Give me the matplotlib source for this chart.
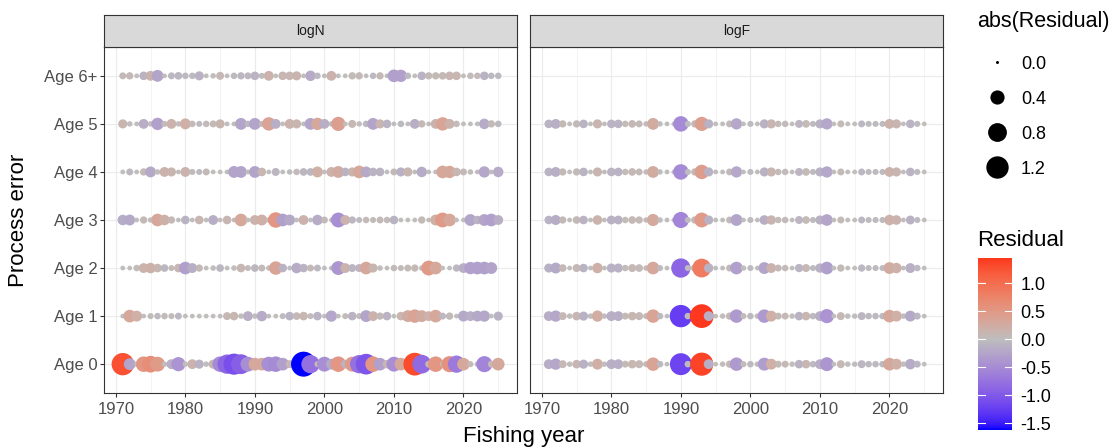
import numpy as np
import matplotlib
matplotlib.use("Agg")
import matplotlib.pyplot as plt
from matplotlib.colors import ListedColormap, Normalize
from matplotlib.lines import Line2D

plt.rcParams["font.family"] = ["Liberation Sans", "DejaVu Sans"]

years = list(range(1971, 2026))
age_labels = ["Age 0", "Age 1", "Age 2", "Age 3", "Age 4", "Age 5", "Age 6+"]
panels = ["logN", "logF"]

# ---- logN process error residuals, one list per age (1971-2025)
logN_age0 = [1.2, -0.25, 0.02, 0.5, 0.6, 0.45, 0.02, -0.15, -0.4, 0.02,
             0.15, -0.12, 0.02, 0.12, -0.5, -0.85, -1.05, -0.9, -0.45, 0.3,
             0.3, -0.45, -0.5, -0.3, 0.08, -0.2, -1.55, -0.75, 0.03, -0.45,
             -0.2, 0.5, -0.1, 0.45, -0.75, -1.0, 0.5, -0.3, 0.1, -0.45,
             0.3, 0.1, 1.25, -0.8, 0.05, 0.5, 0.02, 0.55, -0.65, 0.3,
             0.03, 0.02, -0.55, 0.05, 0.3]
logN_age1 = [0.01, 0.3, 0.2, 0.01, 0.03, -0.04, 0.04, 0.03, -0.05, 0.01,
             0.01, 0.01, 0.01, 0.01, 0.01, 0.08, 0.1, 0.02, -0.15, 0.02,
             -0.18, 0.01, 0.01, -0.03, -0.1, 0.07, 0.1, 0.03, -0.1, 0.01,
             -0.22, 0.01, 0.03, -0.1, 0.03, -0.25, 0.15, 0.06, -0.1, 0.01,
             0.1, 0.25, 0.35, 0.25, 0.15, 0.3, -0.05, 0.06, 0.01, -0.2,
             -0.15, -0.2, -0.22, 0.01, -0.12]
logN_age2 = [0.01, 0.01, 0.04, 0.15, 0.18, 0.1, -0.07, 0.03, 0.1, -0.3,
             -0.15, 0.06, 0.01, 0.02, -0.07, 0.01, 0.02, 0.1, 0.03, -0.07,
             0.05, 0.02, 0.35, -0.1, 0.01, -0.18, -0.1, 0.05, -0.05, 0.01,
             0.01, -0.38, 0.15, -0.08, -0.08, 0.3, 0.12, 0.02, 0.01, 0.04,
             0.03, 0.05, 0.06, 0.02, 0.45, 0.3, 0.01, 0.01, -0.06, -0.15,
             -0.28, -0.3, -0.3, -0.25, np.nan]
logN_age3 = [-0.18, -0.2, 0.01, 0.06, 0.02, 0.3, 0.18, 0.06, 0.01, -0.1,
             0.01, 0.1, 0.01, -0.15, 0.01, 0.1, 0.01, 0.3, 0.01, 0.15,
             0.2, 0.02, 0.5, -0.3, -0.2, 0.01, 0.15, 0.01, -0.18, 0.05,
             0.01, -0.45, 0.15, -0.06, -0.03, 0.04, 0.03, 0.05, 0.04, -0.1,
             0.01, 0.01, 0.01, 0.06, 0.01, 0.2, 0.45, 0.3, 0.01, 0.01,
             -0.25, -0.1, -0.25, -0.3, -0.15]
logN_age4 = [0.01, -0.05, 0.01, 0.06, -0.2, 0.02, 0.15, 0.12, 0.01, 0.15,
             -0.03, -0.03, 0.05, 0.01, 0.01, 0.01, -0.25, -0.25, 0.01, -0.25,
             0.1, 0.01, -0.08, 0.01, -0.02, 0.04, -0.07, -0.07, 0.2, 0.01,
             0.15, 0.25, -0.1, 0.12, 0.3, -0.2, -0.1, -0.1, 0.01, 0.05,
             -0.12, 0.12, 0.01, -0.18, 0.01, 0.01, 0.3, 0.28, 0.1, 0.05,
             0.02, 0.01, -0.22, 0.01, -0.18]
logN_age5 = [0.12, 0.02, 0.01, -0.15, 0.02, -0.28, 0.03, 0.15, 0.02, 0.2,
             0.04, -0.03, 0.04, 0.05, 0.12, 0.01, 0.01, -0.25, -0.04, -0.25,
             0.03, 0.35, -0.15, 0.01, 0.15, 0.12, 0.01, -0.25, 0.28, -0.15,
             0.02, 0.4, 0.01, 0.08, 0.02, -0.04, -0.25, 0.12, -0.1, 0.01,
             -0.04, 0.01, -0.15, 0.06, 0.01, 0.15, 0.35, 0.15, 0.04, 0.01,
             0.01, 0.01, -0.18, 0.06, -0.04]
logN_age6 = [0.05, 0.06, 0.01, -0.1, 0.15, -0.25, 0.01, -0.05, -0.07, -0.04,
             -0.04, -0.12, 0.01, 0.02, 0.08, 0.01, -0.04, -0.06, -0.05, -0.1,
             -0.03, 0.15, 0.01, 0.1, 0.1, 0.12, 0.01, -0.18, -0.04, 0.01,
             0.15, 0.01, 0.01, 0.06, 0.06, 0.01, -0.04, 0.06, 0.01, -0.3,
             -0.28, -0.04, 0.01, -0.1, 0.06, 0.06, 0.07, 0.1, 0.1, 0.01,
             0.04, 0.04, -0.1, -0.04, -0.04]

# ---- logF process error residuals, one list per age (1971-2025)
logF_age0 = [-0.15, -0.22, 0.08, 0.02, 0.1, -0.12, 0.02, 0.2, 0.02, -0.15,
             -0.15, 0.05, 0.1, 0.08, 0.03, 0.35, -0.04, 0.01, 0.01, -1.15,
             -0.04, 0.08, 1.3, -0.15, 0.01, 0.02, 0.06, -0.35, 0.03, -0.04,
             0.02, -0.32, 0.2, 0.05, 0.05, 0.02, -0.1, 0.1, -0.04, -0.15,
             -0.38, 0.01, 0.08, 0.02, 0.02, -0.08, -0.04, -0.04, -0.04, 0.3,
             0.2, 0.02, -0.18, -0.05, 0.01]
logF_age1 = [-0.15, -0.22, 0.08, 0.02, 0.1, -0.12, 0.02, 0.22, 0.02, -0.15,
             -0.15, 0.05, 0.1, 0.08, 0.03, 0.35, -0.04, 0.01, 0.01, -1.2,
             -0.04, 0.08, 1.38, -0.15, 0.01, 0.02, 0.06, -0.35, 0.03, -0.04,
             0.02, -0.35, 0.2, 0.05, 0.05, 0.02, -0.1, 0.1, -0.04, -0.15,
             -0.4, 0.01, 0.08, 0.02, 0.02, -0.08, -0.04, -0.04, -0.04, 0.3,
             0.2, 0.02, -0.2, -0.05, 0.01]
logF_age2 = [-0.12, -0.2, 0.07, 0.01, 0.08, -0.1, 0.01, 0.18, 0.01, -0.12,
             -0.12, 0.04, 0.08, 0.07, 0.02, 0.3, -0.03, 0.01, 0.01, -0.85,
             -0.03, 0.07, 0.8, -0.13, 0.01, 0.01, 0.05, -0.3, 0.02, -0.03,
             0.01, -0.25, 0.15, 0.05, 0.04, 0.01, -0.09, 0.08, -0.03, -0.13,
             -0.3, 0.01, 0.06, 0.01, 0.01, -0.06, -0.03, -0.03, -0.03, 0.25,
             0.18, 0.01, -0.15, -0.04, 0.01]
logF_age3 = [-0.1, -0.16, 0.06, 0.01, 0.07, -0.1, 0.01, 0.14, 0.01, -0.11,
             -0.11, 0.04, 0.07, 0.06, 0.02, 0.27, -0.02, 0.01, 0.01, -0.55,
             -0.03, 0.06, 0.45, -0.12, 0.01, 0.01, 0.05, -0.25, 0.01, -0.03,
             0.01, -0.14, 0.13, 0.04, 0.04, 0.01, -0.08, 0.07, -0.03, -0.12,
             -0.24, 0.01, 0.05, 0.01, 0.01, -0.05, -0.03, -0.03, -0.03, 0.18,
             0.14, 0.01, -0.11, -0.03, 0.01]
logF_age4 = [-0.1, -0.15, 0.06, 0.01, 0.06, -0.1, 0.01, 0.12, 0.01, -0.1,
             -0.1, 0.04, 0.07, 0.05, 0.02, 0.25, -0.02, 0.01, 0.01, -0.5,
             -0.03, 0.06, 0.42, -0.12, 0.01, 0.01, 0.05, -0.22, 0.01, -0.03,
             0.01, -0.12, 0.12, 0.04, 0.04, 0.01, -0.08, 0.07, -0.03, -0.12,
             -0.22, 0.01, 0.05, 0.01, 0.01, -0.05, -0.03, -0.03, -0.03, 0.15,
             0.12, 0.01, -0.1, -0.03, 0.01]
logF_age5 = [-0.1, -0.15, 0.06, 0.01, 0.06, -0.1, 0.01, 0.12, 0.01, -0.1,
             -0.1, 0.04, 0.07, 0.05, 0.02, 0.25, -0.02, 0.01, 0.01, -0.5,
             -0.03, 0.06, 0.4, -0.12, 0.01, 0.01, 0.05, -0.22, 0.01, -0.03,
             0.01, -0.12, 0.12, 0.04, 0.04, 0.01, -0.08, 0.07, -0.03, -0.12,
             -0.22, 0.01, 0.05, 0.01, 0.01, -0.05, -0.03, -0.03, -0.03, 0.15,
             0.12, 0.01, -0.1, -0.03, 0.01]

logN_rows = [logN_age0, logN_age1, logN_age2, logN_age3, logN_age4, logN_age5, logN_age6]
logF_rows = [logF_age0, logF_age1, logF_age2, logF_age3, logF_age4, logF_age5]

size_breaks = [0.0, 0.4, 0.8, 1.2]
colour_breaks = [1.0, 0.5, 0.0, -0.5, -1.0, -1.5]

# ---- colour scale: blue - grey - red, interpolated in CIELAB like ggplot
M_RGB2XYZ = np.array([[0.4124564, 0.3575761, 0.1804375],
                      [0.2126729, 0.7151522, 0.0721750],
                      [0.0193339, 0.1191920, 0.9503041]])
WHITE = np.array([0.95047, 1.0, 1.08883])


def hex_to_lab(h):
    rgb = np.array([int(h[i:i + 2], 16) for i in (1, 3, 5)]) / 255.0
    lin = np.where(rgb <= 0.04045, rgb / 12.92, ((rgb + 0.055) / 1.055) ** 2.4)
    xyz = M_RGB2XYZ @ lin / WHITE
    f = np.where(xyz > (6 / 29) ** 3, np.cbrt(xyz), xyz / (3 * (6 / 29) ** 2) + 4 / 29)
    return np.array([116 * f[1] - 16, 500 * (f[0] - f[1]), 200 * (f[1] - f[2])])


def lab_to_rgb(lab):
    fy = (lab[:, 0] + 16) / 116
    f = np.stack([fy + lab[:, 1] / 500, fy, fy - lab[:, 2] / 200], axis=1)
    xyz = np.where(f > 6 / 29, f ** 3, 3 * (6 / 29) ** 2 * (f - 4 / 29)) * WHITE
    lin = np.clip(xyz @ np.linalg.inv(M_RGB2XYZ).T, 0, 1)
    rgb = np.where(lin <= 0.0031308, 12.92 * lin, 1.055 * lin ** (1 / 2.4) - 0.055)
    return np.clip(rgb, 0, 1)


low, mid, high = hex_to_lab("#0000FF"), hex_to_lab("#BEBEBE"), hex_to_lab("#FF0000")
t = np.linspace(0, 1, 256)[:, None]
lab = np.where(t < 0.5, low + (mid - low) * t / 0.5, mid + (high - mid) * (t - 0.5) / 0.5)
cmap = ListedColormap(lab_to_rgb(lab))

all_vals = np.concatenate([np.array(r, dtype=float) for r in logN_rows + logF_rows])
extent = np.nanmax(np.abs(all_vals))
norm = Normalize(-extent, extent)
DPI = 100


def marker_area(v):
    # diameter grows with sqrt(|v|), tiny dot at zero
    d_px = 3 + 22 * np.sqrt(np.abs(v) / extent)
    return (d_px * 72 / DPI) ** 2


# ---- figure layout (pixel boxes)
W, H = 1118, 448
fig = plt.figure(figsize=(W / DPI, H / DPI), dpi=DPI)


def px_rect(x0, y0, x1, y1):
    return [x0 / W, 1 - y1 / H, (x1 - x0) / W, (y1 - y0) / H]


panel_boxes = [(104, 47, 517, 393), (530, 47, 943, 393)]
grid_c = "#EBEBEB"
dark = "#333333"

for k, (name, rows) in enumerate(zip(panels, [logN_rows, logF_rows])):
    x0, y0, x1, y1 = panel_boxes[k]
    ax = fig.add_axes(px_rect(x0, y0, x1, y1))
    for i, vals in enumerate(rows):
        v = np.array(vals, dtype=float)
        ok = ~np.isnan(v)
        ax.scatter(np.array(years)[ok], np.full(ok.sum(), i), s=marker_area(v[ok]),
                   c=v[ok], cmap=cmap, norm=norm, linewidths=0, zorder=3)
    ax.set_xlim(1968.3, 2027.7)
    ax.set_ylim(-0.6, len(age_labels) - 0.4)
    ax.set_xticks([1970, 1980, 1990, 2000, 2010, 2020])
    ax.set_xticks([1975, 1985, 1995, 2005, 2015, 2025], minor=True)
    ax.set_yticks(range(len(age_labels)))
    ax.grid(True, which="major", color=grid_c, lw=0.8, zorder=0)
    ax.grid(True, which="minor", axis="x", color=grid_c, lw=0.4, zorder=0)
    ax.set_axisbelow(True)
    ax.tick_params(which="minor", length=0)
    ax.tick_params(which="major", direction="out", length=2.8, width=0.8, color=dark,
                   labelcolor="#4D4D4D", labelsize=12, pad=2)
    ax.tick_params(axis="x", pad=3.5)
    if k == 0:
        ax.set_yticklabels(age_labels)
    else:
        ax.set_yticklabels([])
        ax.tick_params(axis="y", length=0)
    for sp in ax.spines.values():
        sp.set_color(dark)
        sp.set_linewidth(0.8)

    # facet strip
    sax = fig.add_axes(px_rect(x0, 15, x1, y0))
    sax.set_facecolor("#D9D9D9")
    sax.set_xticks([])
    sax.set_yticks([])
    for sp in sax.spines.values():
        sp.set_color(dark)
        sp.set_linewidth(0.8)
    sax.text(0.5, 0.5, name, ha="center", va="center", fontsize=10, color="#1A1A1A",
             transform=sax.transAxes)

fig.text((104 + 943) / 2 / W, 1 - 436 / H, "Fishing year", ha="center", va="center", fontsize=16)
fig.text(19 / W, 1 - 220 / H, "Process error", ha="center", va="center", rotation=90, fontsize=16)

# ---- size legend
fig.text(977 / W, 1 - 22 / H, "abs(Residual)", ha="left", va="center", fontsize=15.5)
handles = [Line2D([], [], marker="o", ls="", color="black", markeredgewidth=0,
                  markersize=np.sqrt(marker_area(b))) for b in size_breaks]
fig.legend(handles, [f"{b:.1f}" for b in size_breaks],
           loc="upper left", bbox_to_anchor=(975 / W, 1 - 52 / H), frameon=False,
           fontsize=13, labelspacing=1.0, handletextpad=0.35,
           borderpad=0.2, borderaxespad=0)

# ---- colour bar (half-bin padding at both ends, like ggplot's binned bar)
lo, hi = np.nanmin(all_vals), np.nanmax(all_vals)
pad = (hi - lo) / 40
cax = fig.add_axes(px_rect(978, 258, 1012, 430))
cax.imshow(np.linspace(lo, hi, 300)[:, None], aspect="auto", origin="lower",
           extent=[0, 1, lo - pad, hi + pad], cmap=cmap, norm=norm)
cax.set_xlim(0, 1)
cax.set_ylim(lo - pad, hi + pad)
cax.set_xticks([])
cax.yaxis.tick_right()
cax.set_yticks(colour_breaks)
cax.set_yticklabels([f"{b:.1f}" for b in colour_breaks])
cax.tick_params(axis="y", length=0, labelsize=13, labelcolor="black", pad=6)
for b in colour_breaks:
    cax.plot([0, 0.2], [b, b], color="white", lw=0.8)
    cax.plot([0.8, 1], [b, b], color="white", lw=0.8)
for sp in cax.spines.values():
    sp.set_visible(False)
fig.text(977 / W, 1 - 240 / H, "Residual", ha="left", va="center", fontsize=16)

fig.savefig("out.png", dpi=DPI)
